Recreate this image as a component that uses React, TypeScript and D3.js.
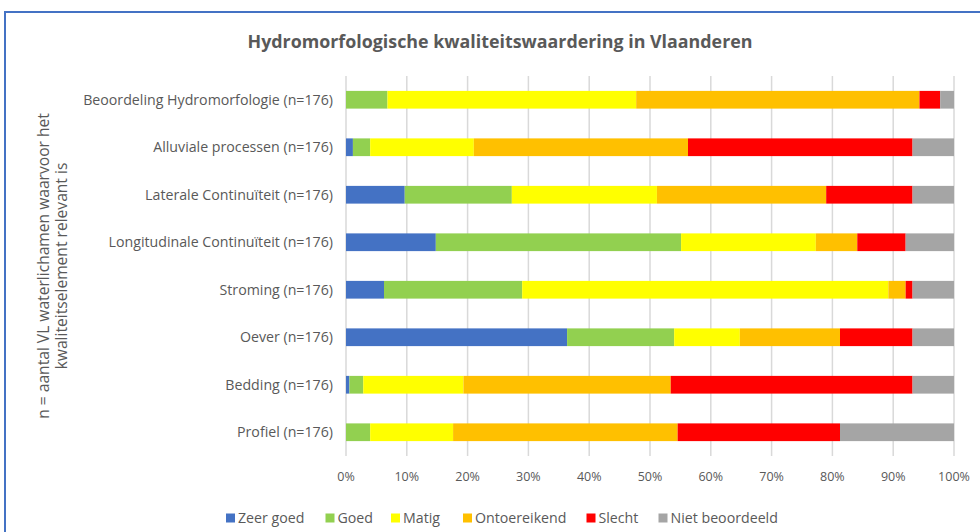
import React from "react";
import * as d3 from "d3";

const categories = [
  "Beoordeling Hydromorfologie (n=176)",
  "Alluviale processen (n=176)",
  "Laterale Continuïteit (n=176)",
  "Longitudinale Continuïteit (n=176)",
  "Stroming (n=176)",
  "Oever (n=176)",
  "Bedding (n=176)",
  "Profiel (n=176)",
];

const seriesNames = ["Zeer goed", "Goed", "Matig", "Ontoereikend", "Slecht", "Niet beoordeeld"];
const seriesColors = ["#4472C4", "#92D050", "#FFFF00", "#FFC000", "#FF0000", "#A5A5A5"];

// counts per category (n = 176)
const zeerGoed = [0, 2, 17, 26, 11, 64, 1, 0];
const goed = [12, 5, 31, 71, 40, 31, 4, 7];
const matig = [72, 30, 42, 39, 106, 19, 29, 24];
const ontoereikend = [82, 62, 49, 12, 5, 29, 60, 65];
const slecht = [6, 65, 25, 14, 2, 21, 70, 47];
const nietBeoordeeld = [4, 12, 12, 14, 12, 12, 12, 33];

const xTicks = [0, 0.1, 0.2, 0.3, 0.4, 0.5, 0.6, 0.7, 0.8, 0.9, 1];

const title = "Hydromorfologische kwaliteitswaardering in Vlaanderen";
const yTitle1 = "n = aantal VL waterlichamen waarvoor het";
const yTitle2 = "kwaliteitselement relevant is";

const FONT = "'Open Sans', sans-serif";
const TEXT = "#595959";

export default function App() {
  const W = 980;
  const H = 532;
  const left = 346;
  const right = 954;
  const top = 76;
  const bottom = 456;

  const seriesArrays = [zeerGoed, goed, matig, ontoereikend, slecht, nietBeoordeeld];
  const rows = categories.map((c, i) => {
    const r: Record<string, any> = { cat: c };
    seriesNames.forEach((s, j) => (r[s] = seriesArrays[j][i]));
    return r;
  });

  const stacked = d3
    .stack<Record<string, any>>()
    .keys(seriesNames)
    .offset(d3.stackOffsetExpand)(rows);

  const x = d3.scaleLinear().domain([0, 1]).range([left, right]);
  const y = d3
    .scaleBand<string>()
    .domain(categories)
    .range([top, bottom])
    .paddingInner(0.627)
    .paddingOuter(0.3135);

  const legendX = [226, 325.5, 391, 463, 586.5, 658.5];

  return (
    <svg
      width={W}
      height={H}
      style={{ position: "absolute", left: 0, top: 0, background: "#fff" }}
      fontFamily={FONT}
    >
      <rect x={0} y={0} width={W} height={H} fill="#fff" />
      {/* chart border */}
      <path d={`M5,${H + 5} L5,12 L${W + 5},12`} fill="none" stroke="#4472C4" strokeWidth={2} />

      <text
        x={500}
        y={48}
        textAnchor="middle"
        fontSize={18}
        fontWeight={700}
        fill={TEXT}
        textLength={505}
        lengthAdjust="spacingAndGlyphs"
      >
        {title}
      </text>

      {/* gridlines */}
      {xTicks.map((t) => (
        <line
          key={t}
          x1={x(t)}
          x2={x(t)}
          y1={top}
          y2={bottom}
          stroke="#D9D9D9"
          strokeWidth={1.5}
        />
      ))}

      {/* bars */}
      {stacked.map((s, si) => (
        <g key={s.key} fill={seriesColors[si]}>
          {s.map((d, i) => {
            const w = x(d[1]) - x(d[0]);
            if (w <= 0) return null;
            return (
              <rect
                key={i}
                x={x(d[0])}
                y={y(categories[i])}
                width={w}
                height={y.bandwidth()}
              />
            );
          })}
        </g>
      ))}

      {/* category labels */}
      {categories.map((c) => (
        <text
          key={c}
          x={333}
          y={(y(c) as number) + y.bandwidth() / 2}
          dy="0.35em"
          textAnchor="end"
          fontSize={14.2}
          fill={TEXT}
        >
          {c}
        </text>
      ))}

      {/* x tick labels */}
      {xTicks.map((t) => (
        <text
          key={t}
          x={x(t)}
          y={481}
          textAnchor="middle"
          fontSize={12.5}
          fill={TEXT}
        >
          {d3.format(".0%")(t)}
        </text>
      ))}

      {/* y axis title */}
      <g transform="translate(0,266)">
        <text
          transform="translate(49,0) rotate(-90)"
          textAnchor="middle"
          fontSize={15.6}
          fill={TEXT}
        >
          {yTitle1}
        </text>
        <text
          transform="translate(67,0) rotate(-90)"
          textAnchor="middle"
          fontSize={15.6}
          fill={TEXT}
        >
          {yTitle2}
        </text>
      </g>

      {/* legend */}
      {seriesNames.map((s, i) => (
        <g key={s} transform={`translate(${legendX[i]},518)`}>
          <rect x={0} y={-4.5} width={9} height={9} fill={seriesColors[i]} />
          <text x={12} y={0} dy="0.35em" fontSize={14.2} fill={TEXT}>
            {s}
          </text>
        </g>
      ))}
    </svg>
  );
}
